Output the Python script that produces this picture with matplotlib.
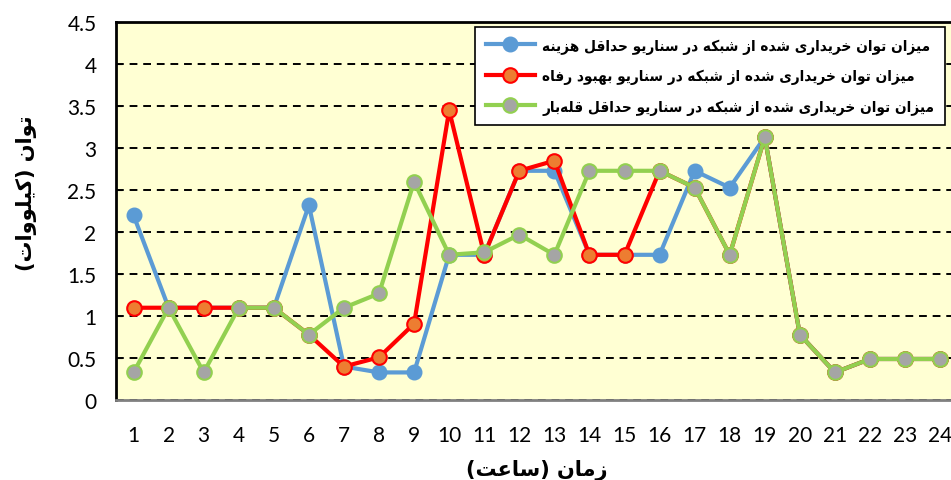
import matplotlib
matplotlib.use("Agg")
import matplotlib.pyplot as plt

# ساعت‌ها و مقادیر توان (کیلووات)
hours = list(range(1, 25))
cost_min = [2.2, 1.1, 1.1, 1.1, 1.1, 2.32, 0.4, 0.33, 0.33, 1.73, 1.73, 2.73,
            2.73, 1.73, 1.73, 1.73, 2.73, 2.53, 3.13, 0.78, 0.33, 0.49, 0.49, 0.49]
welfare = [1.1, 1.1, 1.1, 1.1, 1.1, 0.78, 0.4, 0.51, 0.91, 3.45, 1.73, 2.73,
           2.85, 1.73, 1.73, 2.73, 2.53, 1.73, 3.13, 0.78, 0.33, 0.49, 0.49, 0.49]
peak_min = [0.33, 1.1, 0.33, 1.1, 1.1, 0.78, 1.1, 1.27, 2.6, 1.73, 1.76, 1.97,
            1.73, 2.73, 2.73, 2.73, 2.53, 1.73, 3.13, 0.78, 0.33, 0.49, 0.49, 0.49]

labels = ["میزان توان خریداری شده از شبکه در سناریو حداقل هزینه",
          "میزان توان خریداری شده از شبکه در سناریو بهبود رفاه",
          "میزان توان خریداری شده از شبکه در سناریو حداقل قله\u200cبار"]
y_title = "توان (کیلووات)"
x_title = "زمان (ساعت)"

# matplotlib حروف فارسی را به هم نمی‌چسباند، پس شکل‌های نمایشی را دستی می‌سازیم
FORMS = {
    'ا': ('\uFE8D', '\uFE8E', None, None),
    'ب': ('\uFE8F', '\uFE90', '\uFE91', '\uFE92'),
    'ت': ('\uFE95', '\uFE96', '\uFE97', '\uFE98'),
    'ح': ('\uFEA1', '\uFEA2', '\uFEA3', '\uFEA4'),
    'خ': ('\uFEA5', '\uFEA6', '\uFEA7', '\uFEA8'),
    'د': ('\uFEA9', '\uFEAA', None, None),
    'ر': ('\uFEAD', '\uFEAE', None, None),
    'ز': ('\uFEAF', '\uFEB0', None, None),
    'س': ('\uFEB1', '\uFEB2', '\uFEB3', '\uFEB4'),
    'ش': ('\uFEB5', '\uFEB6', '\uFEB7', '\uFEB8'),
    'ع': ('\uFEC9', '\uFECA', '\uFECB', '\uFECC'),
    'ف': ('\uFED1', '\uFED2', '\uFED3', '\uFED4'),
    'ق': ('\uFED5', '\uFED6', '\uFED7', '\uFED8'),
    'ل': ('\uFEDD', '\uFEDE', '\uFEDF', '\uFEE0'),
    'م': ('\uFEE1', '\uFEE2', '\uFEE3', '\uFEE4'),
    'ن': ('\uFEE5', '\uFEE6', '\uFEE7', '\uFEE8'),
    'ه': ('\uFEE9', '\uFEEA', '\uFEEB', '\uFEEC'),
    'و': ('\uFEED', '\uFEEE', None, None),
    'ی': ('\uFBFC', '\uFBFD', '\uFBFE', '\uFBFF'),
    'ک': ('\uFB8E', '\uFB8F', '\uFB90', '\uFB91'),
}
MIRROR = {'(': ')', ')': '('}


def fa(text):
    out = []
    for i, c in enumerate(text):
        if c not in FORMS:
            out.append(c)
            continue
        prev = text[i - 1] if i > 0 else ''
        nxt = text[i + 1] if i + 1 < len(text) else ''
        p = prev in FORMS and FORMS[prev][2] is not None
        n = nxt in FORMS and FORMS[c][2] is not None
        iso, fin, ini, med = FORMS[c]
        if p and n:
            out.append(med)
        elif p:
            out.append(fin)
        elif n:
            out.append(ini)
        else:
            out.append(iso)
    s = ''.join(ch for ch in out if ch != '\u200c')
    return ''.join(MIRROR.get(ch, ch) for ch in reversed(s))


fig = plt.figure(figsize=(9.51, 4.81), dpi=100)
ax = fig.add_axes([0.122, 0.166, 0.885, 0.786])
ax.set_facecolor('#FFFFD3')

ax.plot(hours, cost_min, color='#5B9BD5', lw=3, marker='o', ms=10.5,
        mfc='#5B9BD5', mec='#5B9BD5', label=fa(labels[0]), zorder=3)
ax.plot(hours, welfare, color='#FF0000', lw=3, marker='o', ms=10.5,
        mfc='#ED7D31', mec='#FF0000', mew=1.5, label=fa(labels[1]), zorder=4)
ax.plot(hours, peak_min, color='#92D050', lw=3, marker='o', ms=10.5,
        mfc='#A5A5A5', mec='#92D050', mew=1.5, label=fa(labels[2]), zorder=5)

ax.set_xlim(0.5, 24.5)
ax.set_ylim(0, 4.5)
ax.set_xticks(hours)
ax.set_yticks([0, 0.5, 1, 1.5, 2, 2.5, 3, 3.5, 4, 4.5])
ax.set_yticklabels(['0', '0.5', '1', '1.5', '2', '2.5', '3', '3.5', '4', '4.5'])
ax.grid(True, axis='y', color='black', linestyle=(0, (4, 3)), lw=1.4, zorder=1)
ax.set_axisbelow(True)

for lab in ax.get_xticklabels() + ax.get_yticklabels():
    lab.set_family('Lato')
    lab.set_fontsize(15)
ax.tick_params(axis='x', length=0, pad=18)
ax.tick_params(axis='y', direction='in', length=4, pad=14)

ax.spines['left'].set_linewidth(2)
ax.spines['top'].set_linewidth(2)
ax.spines['bottom'].set_color('#808080')
ax.spines['bottom'].set_linewidth(2)
ax.spines['right'].set_visible(False)

ax.set_ylabel(fa(y_title), family='DejaVu Sans', fontweight='bold', fontsize=15)
ax.yaxis.set_label_coords(-0.094, 0.55)
ax.set_xlabel(fa(x_title), family='DejaVu Sans', fontweight='bold', fontsize=15, labelpad=10)

leg = ax.legend(loc='upper right', bbox_to_anchor=(0.985, 0.987), borderaxespad=0,
                frameon=True, fancybox=False, edgecolor='black', framealpha=1,
                handlelength=3.2, handletextpad=0.5,
                prop={'family': 'DejaVu Sans', 'stretch': 'condensed', 'weight': 'bold', 'size': 11},
                borderpad=0.7, labelspacing=0.95)
leg.get_frame().set_linewidth(1.2)
leg.set_zorder(10)

fig.savefig('out.png', dpi=100)
